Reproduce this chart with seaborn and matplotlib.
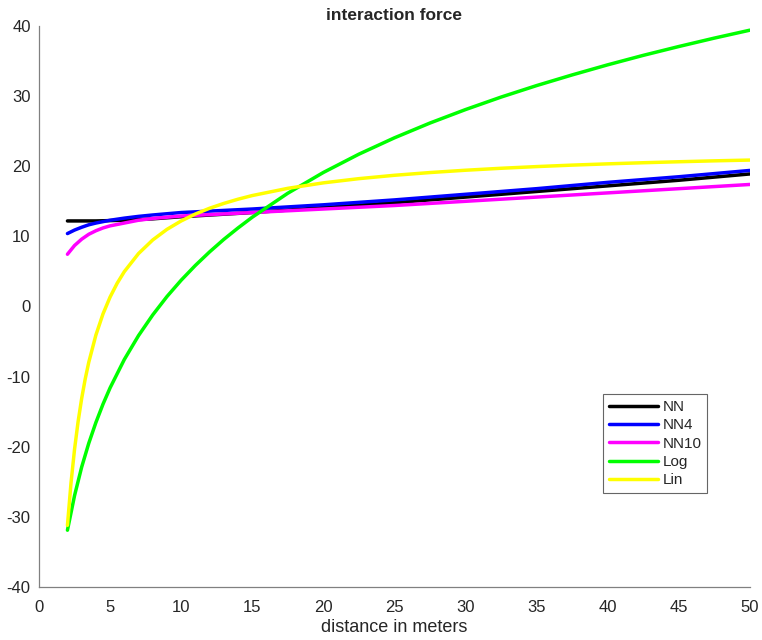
import numpy as np
import pandas as pd
import matplotlib
matplotlib.use('Agg')
import matplotlib.pyplot as plt
import seaborn as sns

# 曲线数据
x_nn = [2, 4, 6, 7, 8, 9, 10, 12.5, 15, 17.5, 20, 25, 30, 35, 40, 45, 50]
y_nn = [12.2, 12.2, 12.3, 12.4, 12.5, 12.65, 12.8, 13.1, 13.4, 13.75, 14.1, 14.8, 15.6,
        16.4, 17.2, 18.0, 18.9]

x_nn4 = [2, 2.5, 3, 3.5, 4, 5, 6, 7, 8, 10, 12.5, 15, 20, 25, 30, 35, 40, 45, 50]
y_nn4 = [10.4, 10.9, 11.3, 11.65, 11.9, 12.3, 12.6, 12.85, 13.05, 13.4, 13.65, 13.9, 14.5,
         15.2, 16.0, 16.8, 17.7, 18.5, 19.4]

x_nn10 = [2, 2.5, 3, 3.5, 4, 4.5, 5, 6, 7, 8, 10, 12.5, 15, 20, 25, 30, 35, 40, 45, 50]
y_nn10 = [7.45, 8.7, 9.6, 10.3, 10.8, 11.2, 11.5, 11.9, 12.3, 12.55, 12.9, 13.15, 13.4,
          13.9, 14.4, 15.0, 15.6, 16.2, 16.8, 17.4]

x_log = [2, 2.5, 3, 3.5, 4, 4.5, 5, 6, 7, 8, 9, 10, 11, 12, 13, 14, 15, 17.5, 20, 22.5,
         25, 27.5, 30, 32.5, 35, 37.5, 40, 42.5, 45, 47.5, 50]
y_log = [-31.9, -26.96, -22.9, -19.5, -16.55, -13.93, -11.6, -7.56, -4.15, -1.2, 1.42,
         3.75, 5.86, 7.79, 9.57, 11.2, 12.73, 16.15, 19.11, 21.72, 24.05, 26.16, 28.08,
         29.86, 31.5, 33.02, 34.46, 35.81, 37.07, 38.27, 39.4]

x_lin = [2, 2.25, 2.5, 2.75, 3, 3.25, 3.5, 4, 4.5, 5, 5.5, 6, 7, 8, 9, 10, 11, 12, 13, 14,
         15, 17.5, 20, 22.5, 25, 27.5, 30, 32.5, 35, 37.5, 40, 42.5, 45, 47.5, 50]
y_lin = [-31.2, -25.17, -20.35, -16.4, -13.12, -10.33, -7.95, -4.08, -1.06, 1.35, 3.32,
         4.97, 7.55, 9.49, 11.0, 12.2, 13.19, 14.01, 14.7, 15.3, 15.82, 16.85, 17.63,
         18.23, 18.71, 19.1, 19.43, 19.71, 19.95, 20.16, 20.34, 20.5, 20.64, 20.77, 20.88]

labels = ['NN', 'NN4', 'NN10', 'Log', 'Lin']
colors = ['#000000', '#0000ff', '#ff00ff', '#00ff00', '#ffff00']
series = [(x_nn, y_nn), (x_nn4, y_nn4), (x_nn10, y_nn10), (x_log, y_log), (x_lin, y_lin)]

xticks = [0, 5, 10, 15, 20, 25, 30, 35, 40, 45, 50]
yticks = [-40, -30, -20, -10, 0, 10, 20, 30, 40]

sns.set_style('white')
plt.rcParams['font.family'] = ['Liberation Sans', 'DejaVu Sans']
plt.rcParams['axes.unicode_minus'] = False

fig = plt.figure(figsize=(7.62, 6.4), dpi=100)
ax = fig.add_axes([0.0512, 0.0828, 0.9328, 0.8766])

for (xs, ys), lab, col in zip(series, labels, colors):
    df = pd.DataFrame({'x': xs, 'y': ys})
    sns.lineplot(data=df, x='x', y='y', ax=ax, color=col, linewidth=2.5,
                 label=lab, estimator=None, sort=True)

ax.set_xlim(0, 50)
ax.set_ylim(-40, 40)
ax.set_xticks(xticks)
ax.set_yticks(yticks)
ax.set_xlabel('distance in meters', fontsize=13, color='#262626', labelpad=3)
ax.set_ylabel('')
ax.set_title('interaction force', fontsize=12.5, fontweight='bold', pad=4)

for s in ['top', 'right']:
    ax.spines[s].set_visible(False)
for s in ['left', 'bottom']:
    ax.spines[s].set_color('#808080')
    ax.spines[s].set_linewidth(0.9)
ax.tick_params(direction='in', length=5, width=0.9, color='#808080',
               labelsize=12, labelcolor='#262626', pad=6)
ax.tick_params(axis='x', pad=9)

leg = ax.legend(loc='upper left', bbox_to_anchor=(0.793, 0.344), borderaxespad=0,
                fontsize=11, handlelength=3.2, handletextpad=0.3, labelspacing=0.28,
                frameon=True, fancybox=False, borderpad=0.4)
leg.get_frame().set_edgecolor('#404040')
leg.get_frame().set_linewidth(0.8)

fig.savefig('out.png', dpi=100)
